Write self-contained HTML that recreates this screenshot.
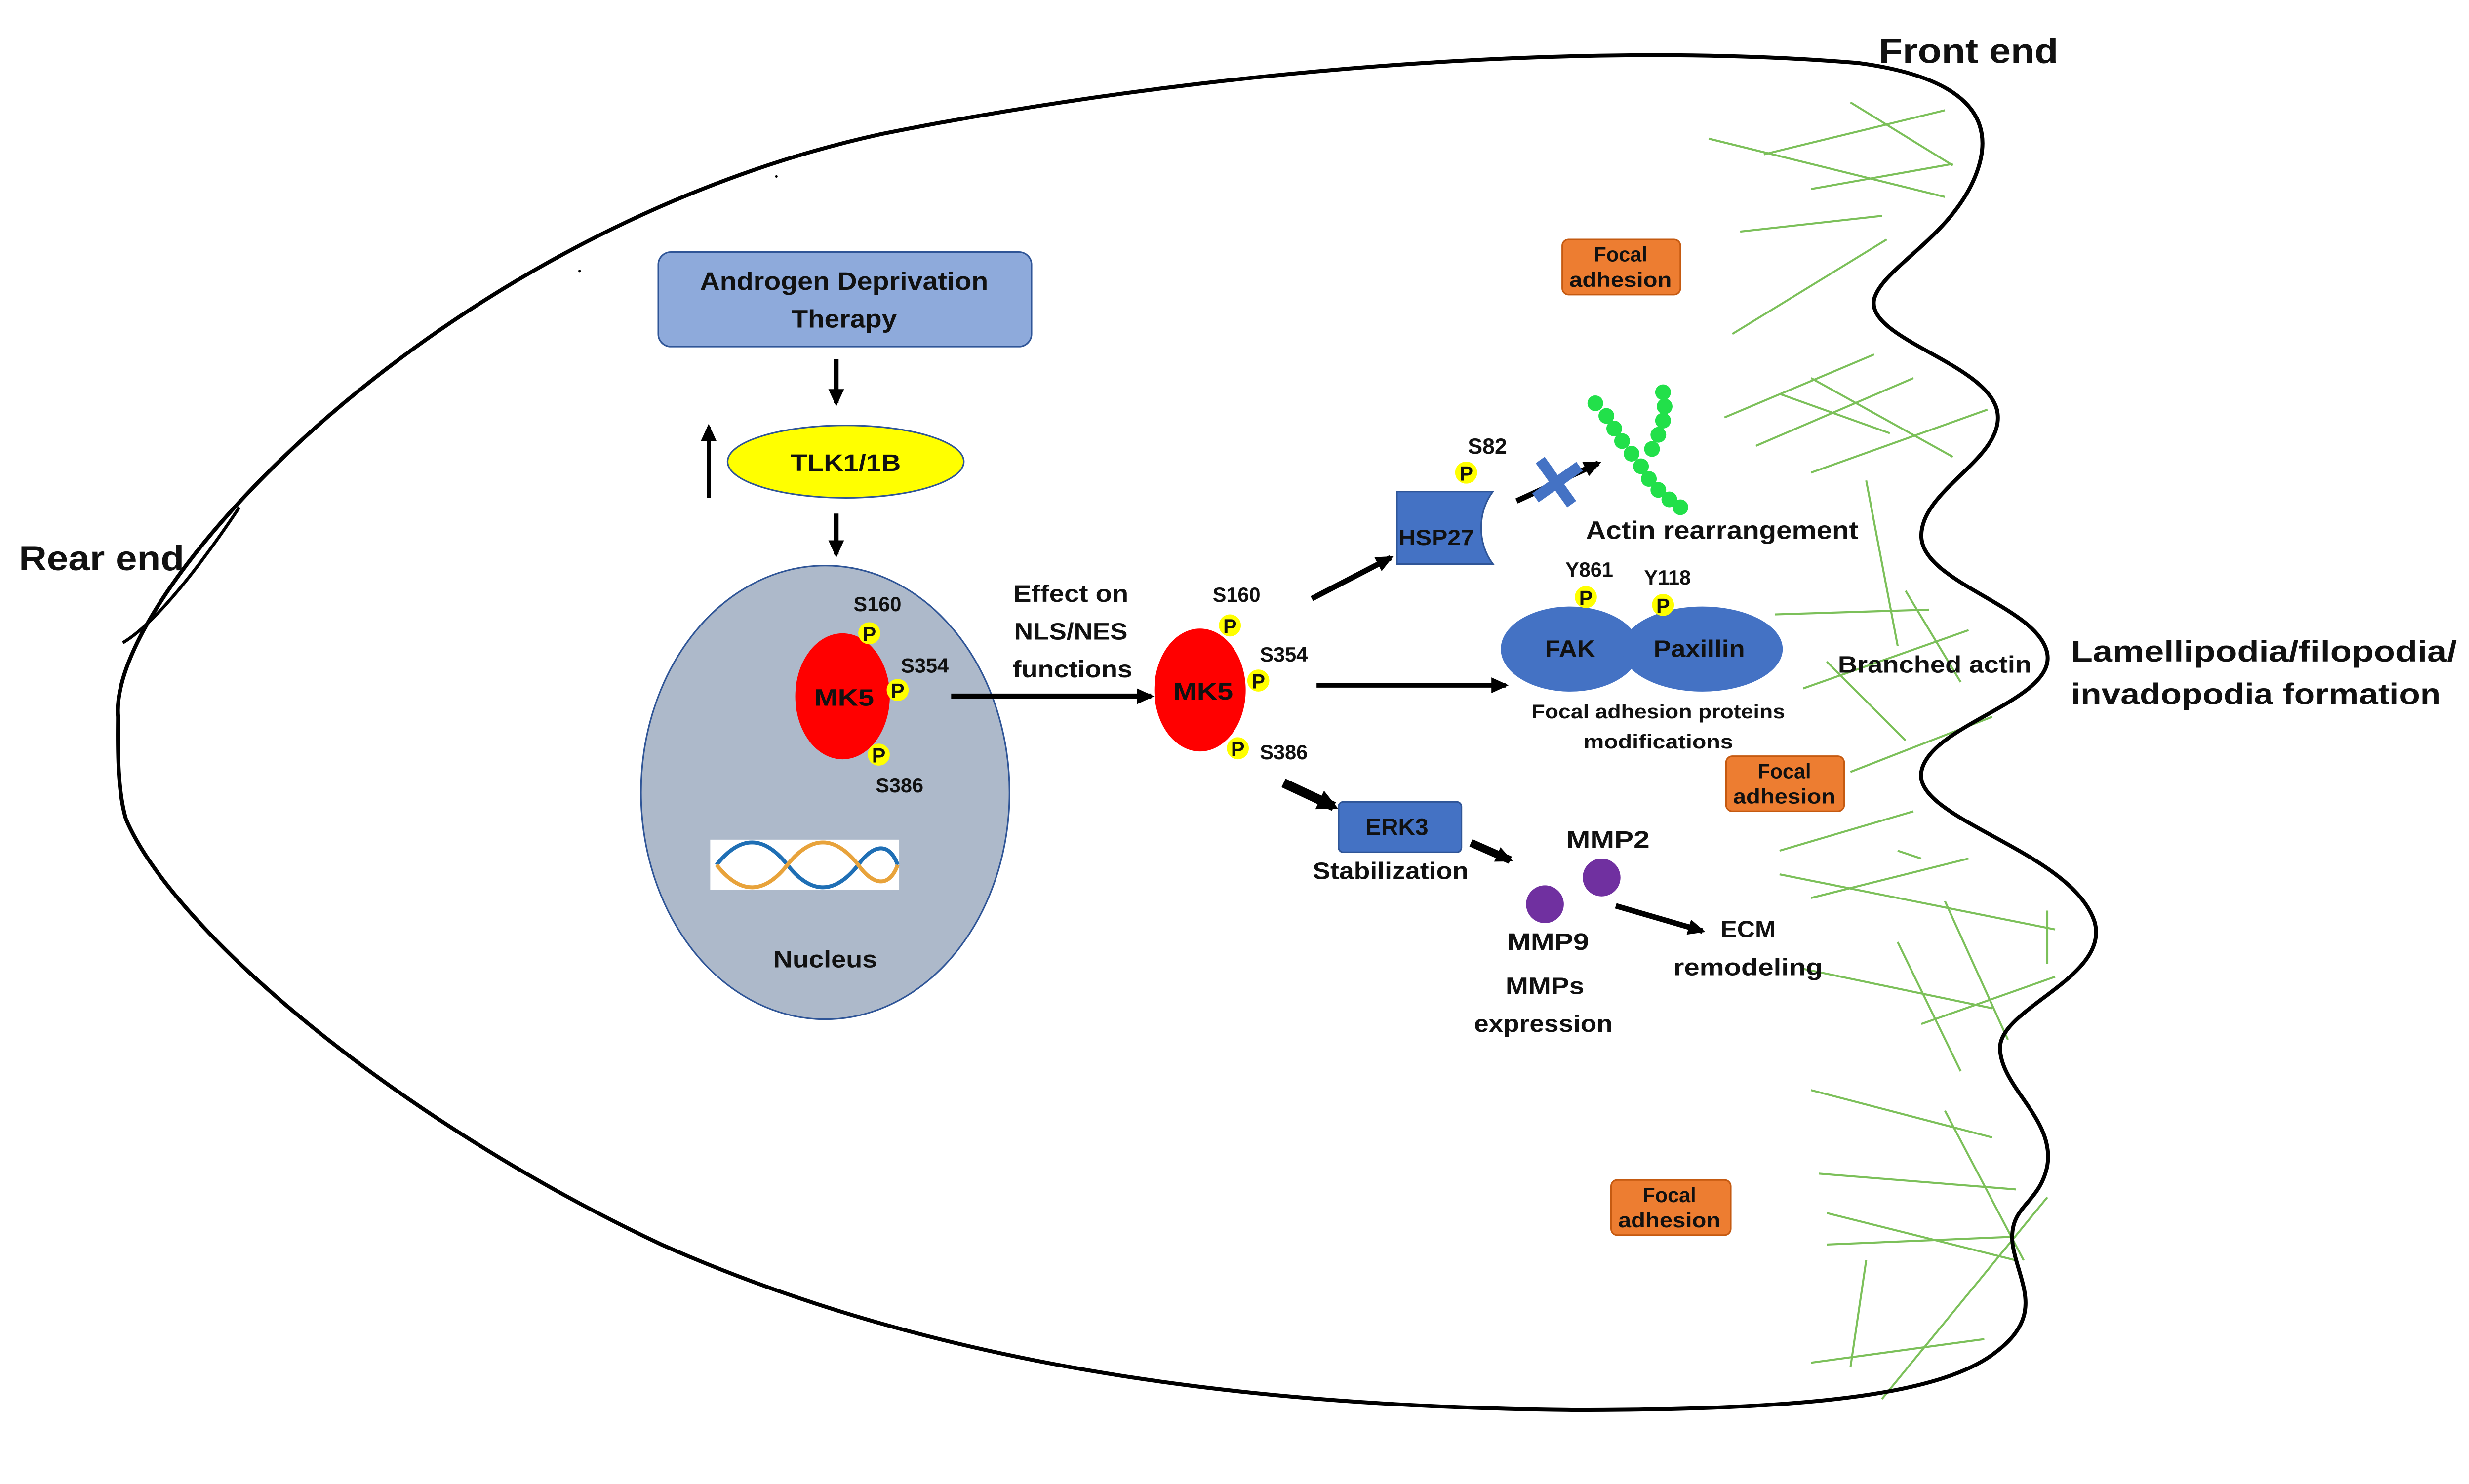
<!DOCTYPE html>
<html><head><meta charset="utf-8"><style>
html,body{margin:0;padding:0;background:#fff}
svg{display:block}
text{font-family:"Liberation Sans",sans-serif;font-weight:bold;fill:#111}
</style></head><body>
<svg width="5090" height="3006" viewBox="0 0 1596 942" preserveAspectRatio="none" xmlns="http://www.w3.org/2000/svg">
<defs>
<marker id="ah" markerWidth="11" markerHeight="10" refX="9" refY="5" orient="auto" markerUnits="userSpaceOnUse"><path d="M0,0 L11,5 L0,10 Z" fill="#000"/></marker>
<marker id="ahb" markerWidth="13" markerHeight="13" refX="10" refY="6.5" orient="auto" markerUnits="userSpaceOnUse"><path d="M0,0 L13,6.5 L0,13 Z" fill="#000"/></marker>
</defs>
<g stroke="#7cc05a" stroke-width="1.3" fill="none">
<line x1="1085" y1="88" x2="1235" y2="125"/><line x1="1120" y1="98" x2="1235" y2="70"/>
<line x1="1150" y1="120" x2="1240" y2="104"/><line x1="1175" y1="65" x2="1240" y2="105"/>
<line x1="1105" y1="147" x2="1195" y2="137"/><line x1="1100" y1="212" x2="1198" y2="152"/>
<line x1="1095" y1="265" x2="1190" y2="225"/><line x1="1115" y1="283" x2="1215" y2="240"/>
<line x1="1150" y1="240" x2="1240" y2="290"/><line x1="1130" y1="250" x2="1200" y2="275"/>
<line x1="1150" y1="300" x2="1262" y2="260"/><line x1="1185" y1="305" x2="1205" y2="410"/>
<line x1="1127" y1="390" x2="1225" y2="387"/><line x1="1210" y1="375" x2="1245" y2="433"/>
<line x1="1145" y1="437" x2="1250" y2="400"/><line x1="1160" y1="420" x2="1210" y2="470"/>
<line x1="1175" y1="490" x2="1265" y2="455"/><line x1="1130" y1="540" x2="1215" y2="515"/>
<line x1="1130" y1="555" x2="1305" y2="590"/><line x1="1150" y1="570" x2="1250" y2="545"/>
<line x1="1205" y1="540" x2="1220" y2="545"/><line x1="1235" y1="572" x2="1275" y2="660"/>
<line x1="1205" y1="598" x2="1245" y2="680"/><line x1="1300" y1="578" x2="1300" y2="612"/>
<line x1="1145" y1="615" x2="1265" y2="640"/><line x1="1220" y1="650" x2="1305" y2="620"/>
<line x1="1150" y1="692" x2="1265" y2="722"/><line x1="1235" y1="705" x2="1285" y2="800"/>
<line x1="1155" y1="745" x2="1280" y2="755"/><line x1="1160" y1="770" x2="1280" y2="800"/>
<line x1="1160" y1="790" x2="1280" y2="785"/><line x1="1195" y1="888" x2="1300" y2="760"/>
<line x1="1150" y1="865" x2="1260" y2="850"/><line x1="1185" y1="800" x2="1175" y2="868"/>
</g>
<path d="M75,455 C72,420 110,360 170,300 C260,210 400,120 560,85 C760,45 1000,25 1180,40 C1240,48 1270,70 1255,110 C1240,150 1195,170 1190,190 C1185,215 1260,230 1268,260 C1275,290 1220,310 1220,340 C1220,370 1295,385 1300,415 C1305,445 1225,460 1220,490 C1215,520 1315,540 1330,585 C1340,620 1270,640 1270,665 C1270,690 1305,710 1300,740 C1295,765 1275,765 1278,790 C1282,815 1300,835 1265,860 C1230,885 1150,895 1000,895 C800,893 600,870 420,790 C250,710 110,590 80,520 C74,500 75,470 75,455 Z" fill="none" stroke="#000" stroke-width="2.5"/>
<path d="M78,408 C100,395 130,355 152,322" fill="none" stroke="#000" stroke-width="2"/>
<circle cx="368" cy="172" r="0.8" fill="#000"/><circle cx="493" cy="112" r="0.8" fill="#000"/>
<g lengthAdjust="spacingAndGlyphs">
<text x="12" y="362" font-size="22" textLength="105" lengthAdjust="spacingAndGlyphs">Rear end</text>
<text x="1193" y="40" font-size="22" textLength="114" lengthAdjust="spacingAndGlyphs">Front end</text>
<text x="1315" y="420" font-size="19" textLength="245" lengthAdjust="spacingAndGlyphs">Lamellipodia/filopodia/</text>
<text x="1315" y="447" font-size="19" textLength="235" lengthAdjust="spacingAndGlyphs">invadopodia formation</text>
<text x="1167" y="427" font-size="15" textLength="123" lengthAdjust="spacingAndGlyphs">Branched actin</text>
</g>
<rect x="418" y="160" width="237" height="60" rx="8" fill="#8eaadb" stroke="#2f5597" stroke-width="1"/>
<text x="536" y="184" font-size="16" text-anchor="middle" textLength="183" lengthAdjust="spacingAndGlyphs">Androgen Deprivation</text>
<text x="536" y="208" font-size="16" text-anchor="middle" textLength="67" lengthAdjust="spacingAndGlyphs">Therapy</text>
<line x1="531" y1="228" x2="531" y2="256" stroke="#000" stroke-width="3" marker-end="url(#ah)"/>
<ellipse cx="537" cy="293" rx="75" ry="23" fill="#ffff00" stroke="#2f5597" stroke-width="1"/>
<text x="537" y="299" font-size="15" text-anchor="middle" textLength="70" lengthAdjust="spacingAndGlyphs">TLK1/1B</text>
<line x1="450" y1="316" x2="450" y2="271" stroke="#000" stroke-width="2.5" marker-end="url(#ah)"/>
<line x1="531" y1="326" x2="531" y2="352" stroke="#000" stroke-width="3" marker-end="url(#ah)"/>
<ellipse cx="524" cy="503" rx="117" ry="144" fill="#adb9ca" stroke="#2f5597" stroke-width="1"/>
<text x="524" y="614" font-size="15" text-anchor="middle" textLength="66" lengthAdjust="spacingAndGlyphs">Nucleus</text>
<rect x="451" y="533" width="120" height="32" fill="#fff"/>
<g stroke-width="2.5" fill="none">
<path d="M455,549 C470,530 485,530 500,549 C515,568 530,568 545,549 C555,535 565,535 570,549" stroke="#1f6fb5"/>
<path d="M455,549 C470,568 485,568 500,549 C515,530 530,530 545,549 C555,563 565,563 570,549" stroke="#e8a33b"/>
</g>
<ellipse cx="535" cy="442" rx="30" ry="40" fill="#ff0000"/>
<text x="536" y="448" font-size="15" text-anchor="middle" textLength="38" lengthAdjust="spacingAndGlyphs">MK5</text>
<g font-size="13">
<circle cx="552" cy="402" r="7" fill="#ffff00"/><text x="552" y="407" text-anchor="middle" font-weight="normal">P</text>
<circle cx="570" cy="438" r="7" fill="#ffff00"/><text x="570" y="443" text-anchor="middle" font-weight="normal">P</text>
<circle cx="558" cy="479" r="7" fill="#ffff00"/><text x="558" y="484" text-anchor="middle" font-weight="normal">P</text>
<text x="542" y="388">S160</text><text x="572" y="427">S354</text><text x="556" y="503">S386</text>
</g>
<text x="680" y="382" font-size="15" text-anchor="middle" textLength="73" lengthAdjust="spacingAndGlyphs">Effect on</text>
<text x="680" y="406" font-size="15" text-anchor="middle" textLength="72" lengthAdjust="spacingAndGlyphs">NLS/NES</text>
<text x="681" y="430" font-size="15" text-anchor="middle" textLength="76" lengthAdjust="spacingAndGlyphs">functions</text>
<line x1="604" y1="442" x2="731" y2="442" stroke="#000" stroke-width="3.5" marker-end="url(#ah)"/>
<ellipse cx="762" cy="438" rx="29" ry="39" fill="#ff0000"/>
<text x="764" y="444" font-size="15" text-anchor="middle" textLength="38" lengthAdjust="spacingAndGlyphs">MK5</text>
<g font-size="13">
<circle cx="781" cy="397" r="7" fill="#ffff00"/><text x="781" y="402" text-anchor="middle" font-weight="normal">P</text>
<circle cx="799" cy="432" r="7" fill="#ffff00"/><text x="799" y="437" text-anchor="middle" font-weight="normal">P</text>
<circle cx="786" cy="475" r="7" fill="#ffff00"/><text x="786" y="480" text-anchor="middle" font-weight="normal">P</text>
<text x="770" y="382">S160</text><text x="800" y="420">S354</text><text x="800" y="482">S386</text>
</g>
<line x1="833" y1="380" x2="883" y2="354" stroke="#000" stroke-width="3.5" marker-end="url(#ah)"/>
<line x1="836" y1="435" x2="956" y2="435" stroke="#000" stroke-width="3" marker-end="url(#ah)"/>
<line x1="815" y1="497" x2="847" y2="512" stroke="#000" stroke-width="6" marker-end="url(#ahb)"/>
<path d="M887,312 L948,312 C938,325 938,345 948,358 L887,358 Z" fill="#4472c4" stroke="#2f5597"/>
<text x="912" y="346" font-size="14" text-anchor="middle" textLength="48" lengthAdjust="spacingAndGlyphs">HSP27</text>
<circle cx="931" cy="300" r="7" fill="#ffff00"/><text x="931" y="305" font-size="13" text-anchor="middle">P</text>
<text x="932" y="288" font-size="14">S82</text>
<line x1="963" y1="318" x2="1015" y2="294" stroke="#000" stroke-width="3.5" marker-end="url(#ah)"/>
<path d="M978,292 L998,320 M975,316 L1003,296" stroke="#4472c4" stroke-width="7"/>
<g fill="#22e04a">
<circle cx="1013" cy="256" r="5"/><circle cx="1020" cy="264" r="5"/><circle cx="1025" cy="272" r="5"/><circle cx="1030" cy="280" r="5"/><circle cx="1036" cy="288" r="5"/><circle cx="1042" cy="296" r="5"/><circle cx="1047" cy="304" r="5"/><circle cx="1053" cy="311" r="5"/><circle cx="1060" cy="317" r="5"/><circle cx="1067" cy="322" r="5"/>
<circle cx="1056" cy="249" r="5"/><circle cx="1057" cy="258" r="5"/><circle cx="1056" cy="267" r="5"/><circle cx="1053" cy="276" r="5"/><circle cx="1049" cy="285" r="5"/>
</g>
<text x="1007" y="342" font-size="16" textLength="173" lengthAdjust="spacingAndGlyphs">Actin rearrangement</text>
<ellipse cx="997" cy="412" rx="44" ry="27" fill="#4472c4"/>
<ellipse cx="1081" cy="412" rx="51" ry="27" fill="#4472c4"/>
<text x="997" y="417" font-size="15" text-anchor="middle" textLength="32" lengthAdjust="spacingAndGlyphs">FAK</text>
<text x="1079" y="417" font-size="15" text-anchor="middle" textLength="58" lengthAdjust="spacingAndGlyphs">Paxillin</text>
<circle cx="1007" cy="379" r="7" fill="#ffff00"/><text x="1007" y="384" font-size="13" text-anchor="middle">P</text>
<circle cx="1056" cy="384" r="7" fill="#ffff00"/><text x="1056" y="389" font-size="13" text-anchor="middle">P</text>
<text x="994" y="366" font-size="13">Y861</text><text x="1044" y="371" font-size="13">Y118</text>
<text x="1053" y="456" font-size="12.5" text-anchor="middle" textLength="161" lengthAdjust="spacingAndGlyphs">Focal adhesion proteins</text>
<text x="1053" y="475" font-size="12.5" text-anchor="middle" textLength="95" lengthAdjust="spacingAndGlyphs">modifications</text>
<rect x="850" y="509" width="78" height="32" rx="3" fill="#4472c4" stroke="#2f5597"/>
<text x="887" y="530" font-size="15" text-anchor="middle" textLength="40" lengthAdjust="spacingAndGlyphs">ERK3</text>
<text x="883" y="558" font-size="15" text-anchor="middle" textLength="99" lengthAdjust="spacingAndGlyphs">Stabilization</text>
<line x1="934" y1="535" x2="959" y2="546" stroke="#000" stroke-width="5" marker-end="url(#ah)"/>
<circle cx="1017" cy="557" r="12" fill="#7030a0"/>
<circle cx="981" cy="574" r="12" fill="#7030a0"/>
<text x="1021" y="538" font-size="15" text-anchor="middle" textLength="53" lengthAdjust="spacingAndGlyphs">MMP2</text>
<text x="983" y="603" font-size="15" text-anchor="middle" textLength="52" lengthAdjust="spacingAndGlyphs">MMP9</text>
<text x="981" y="631" font-size="15" text-anchor="middle" textLength="50" lengthAdjust="spacingAndGlyphs">MMPs</text>
<text x="980" y="655" font-size="15" text-anchor="middle" textLength="88" lengthAdjust="spacingAndGlyphs">expression</text>
<line x1="1026" y1="575" x2="1081" y2="591" stroke="#000" stroke-width="3.5" marker-end="url(#ah)"/>
<text x="1110" y="595" font-size="15" text-anchor="middle" textLength="35" lengthAdjust="spacingAndGlyphs">ECM</text>
<text x="1110" y="619" font-size="15" text-anchor="middle" textLength="95" lengthAdjust="spacingAndGlyphs">remodeling</text>
<g font-size="13">
<rect x="992" y="152" width="75" height="35" rx="4" fill="#ed7d31" stroke="#c55a11"/>
<text x="1029" y="166" text-anchor="middle">Focal</text><text x="1029" y="182" text-anchor="middle" textLength="65" lengthAdjust="spacingAndGlyphs">adhesion</text>
<rect x="1096" y="480" width="75" height="35" rx="4" fill="#ed7d31" stroke="#c55a11"/>
<text x="1133" y="494" text-anchor="middle">Focal</text><text x="1133" y="510" text-anchor="middle" textLength="65" lengthAdjust="spacingAndGlyphs">adhesion</text>
<rect x="1023" y="749" width="76" height="35" rx="4" fill="#ed7d31" stroke="#c55a11"/>
<text x="1060" y="763" text-anchor="middle">Focal</text><text x="1060" y="779" text-anchor="middle" textLength="65" lengthAdjust="spacingAndGlyphs">adhesion</text>
</g>
</svg>
</body></html>
